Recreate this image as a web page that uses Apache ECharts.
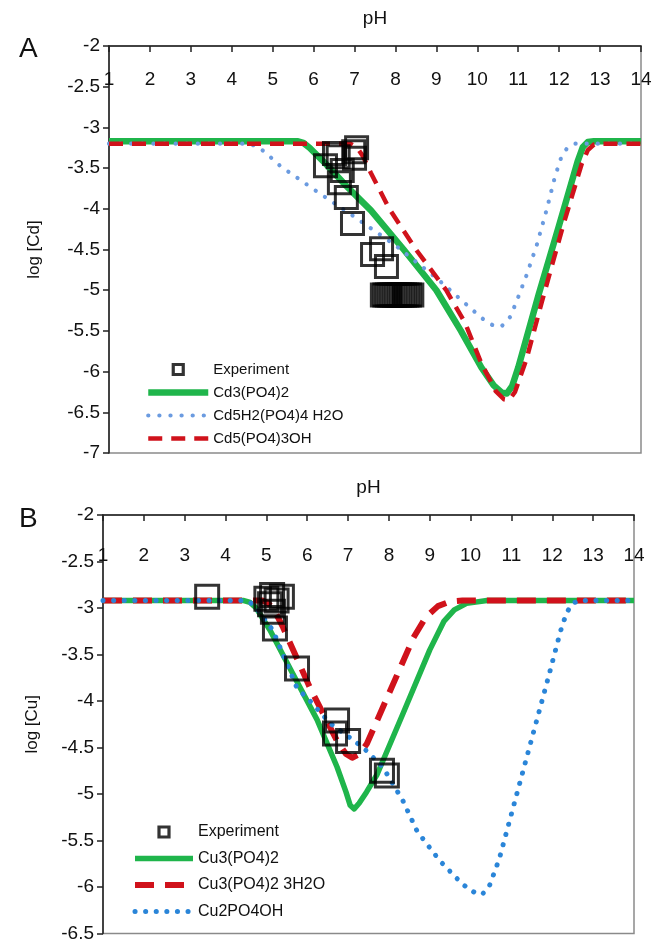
<!DOCTYPE html>
<html><head><meta charset="utf-8">
<script src="https://cdn.jsdelivr.net/npm/echarts@6/dist/echarts.min.js"></script>
<style>html,body{margin:0;padding:0;background:#fff}#c{width:662px;height:943px}</style>
</head><body><div id="c"></div>
<script>
// ---------- Panel A : Cd ----------
const cdExperiment = [[6.29,-3.47],[6.51,-3.32],[6.6,-3.36],[6.7,-3.53],[6.63,-3.68],[6.8,-3.86],[6.95,-4.18],[6.98,-3.30],[7.05,-3.25],[7.0,-3.38],[7.44,-4.56],[7.66,-4.49],[7.78,-4.71],[7.68,-5.06],[7.74,-5.06],[7.80,-5.06],[7.86,-5.06],[7.92,-5.06],[7.98,-5.06],[8.04,-5.06],[8.10,-5.06],[8.16,-5.06],[8.22,-5.06],[8.28,-5.06],[8.34,-5.06],[8.4,-5.06]];
const cd3PO42 = [[1,-3.17],[5.6,-3.17],[5.75,-3.19],[5.9,-3.25],[6.3,-3.45],[6.8,-3.72],[7.4,-4.02],[8.2,-4.5],[9.0,-5.0],[9.6,-5.5],[10.1,-5.95],[10.4,-6.17],[10.6,-6.26],[10.72,-6.27],[10.85,-6.18],[11.0,-5.95],[11.5,-5.05],[12.0,-4.2],[12.45,-3.42],[12.58,-3.24],[12.7,-3.18],[12.85,-3.17],[14,-3.17]];
const cd5H2PO44H2O = [[1,-3.2],[4.4,-3.2],[4.6,-3.23],[4.8,-3.3],[5.2,-3.48],[6.0,-3.76],[7.0,-4.1],[8.0,-4.45],[9.0,-4.85],[9.9,-5.25],[10.2,-5.38],[10.45,-5.45],[10.6,-5.44],[10.8,-5.33],[10.95,-5.15],[11.2,-4.82],[11.45,-4.45],[11.7,-4.0],[11.9,-3.6],[12.05,-3.37],[12.2,-3.25],[12.4,-3.2],[14,-3.2]];
const cd5PO43OH = [[1,-3.2],[6.9,-3.2],[7.05,-3.24],[7.2,-3.35],[7.4,-3.56],[7.85,-4.0],[8.5,-4.5],[9.24,-5.0],[9.7,-5.4],[10.1,-5.9],[10.45,-6.24],[10.65,-6.34],[10.78,-6.35],[10.92,-6.25],[11.2,-5.85],[11.6,-5.1],[12.1,-4.2],[12.55,-3.45],[12.7,-3.28],[12.85,-3.21],[13.0,-3.2],[14,-3.2]];
// ---------- Panel B : Cu ----------
const cuExperiment = [[3.55,-2.88],[5.0,-2.9],[5.14,-2.86],[5.38,-2.88],[5.09,-2.96],[5.25,-2.92],[5.16,-3.04],[5.21,-3.22],[5.75,-3.65],[6.73,-4.21],[6.68,-4.35],[7.0,-4.43],[7.83,-4.75],[7.95,-4.8]];
const cu3PO42 = [[1,-2.92],[4.45,-2.92],[4.6,-2.94],[4.75,-3.0],[5.09,-3.24],[5.65,-3.71],[6.24,-4.2],[6.73,-4.71],[6.95,-4.98],[7.05,-5.12],[7.15,-5.16],[7.27,-5.1],[7.45,-4.98],[7.71,-4.79],[8.34,-4.14],[9.0,-3.45],[9.35,-3.14],[9.6,-3.02],[9.9,-2.95],[10.4,-2.92],[14,-2.92]];
const cu3PO423H2O = [[1,-2.92],[4.9,-2.92],[5.05,-2.95],[5.2,-3.03],[5.4,-3.2],[6.07,-3.86],[6.73,-4.43],[6.95,-4.57],[7.1,-4.61],[7.28,-4.57],[7.46,-4.46],[7.85,-4.07],[8.27,-3.65],[8.6,-3.32],[8.9,-3.1],[9.2,-2.98],[9.5,-2.93],[9.8,-2.92],[14,-2.92]];
const cu2PO4OH = [[1,-2.92],[4.45,-2.92],[4.6,-2.94],[4.75,-3.0],[5.16,-3.24],[5.75,-3.86],[6.07,-4.0],[6.56,-4.24],[7.37,-4.5],[7.85,-4.71],[8.34,-5.07],[8.69,-5.4],[9.25,-5.72],[9.8,-5.97],[10.1,-6.06],[10.28,-6.08],[10.45,-6.0],[10.7,-5.7],[11.1,-5.05],[11.5,-4.4],[11.9,-3.75],[12.2,-3.25],[12.35,-3.05],[12.5,-2.95],[12.65,-2.92],[14,-2.92]];
// ---------- axes ----------
const pHMin = 1, pHMax = 14, pHStep = 1;
const logMaxA = -2, logMinA = -7, logMaxB = -2, logMinB = -6.5, logStep = 0.5;
const namesA = ['Experiment','Cd3(PO4)2','Cd5H2(PO4)4 H2O','Cd5(PO4)3OH'];
const namesB = ['Experiment','Cu3(PO4)2','Cu3(PO4)2 3H2O','Cu2PO4OH'];

const FONT = 'Liberation Sans, Arial, sans-serif';
const GREEN = '#1fb54b', RED = '#d0121b', BLUE_A = '#6b9be0', BLUE_B = '#2a85d8';

function xAx(g, margin){
  return {type:'value', gridIndex:g, position:'top', min:pHMin, max:pHMax, interval:pHStep,
    name:'pH', nameLocation:'middle', nameGap:18,
    nameTextStyle:{fontSize:19, color:'#111', fontFamily:FONT},
    axisLine:{show:true, onZero:false, lineStyle:{color:'#222', width:1.5}},
    axisTick:{show:true, inside:true, length:6, lineStyle:{color:'#222', width:1.5}},
    axisLabel:{inside:true, margin:margin, color:'#111', fontSize:19, fontFamily:FONT,
      showMinLabel:true, showMaxLabel:true},
    splitLine:{show:false}};
}
function yAx(g, min, max, name, gap){
  return {type:'value', gridIndex:g, min:min, max:max, interval:logStep,
    name:name, nameLocation:'middle', nameGap:gap, nameRotate:90,
    nameTextStyle:{fontSize:17, color:'#111', fontFamily:FONT},
    axisLine:{show:true, onZero:false, lineStyle:{color:'#222', width:1.5}},
    axisTick:{show:true, length:6, lineStyle:{color:'#222', width:1.5}},
    axisLabel:{margin:9, color:'#111', fontSize:19, fontFamily:FONT},
    splitLine:{show:false}};
}
function lineS(name, data, xi, color, width, type){
  return {name, type:'line', xAxisIndex:xi, yAxisIndex:xi, data, symbol:'none',
    smooth:false, z:2,
    lineStyle:{color, width, type, cap: Array.isArray(type) && type[0] < 1 ? 'round' : 'butt', join:'round'},
    itemStyle:{color}};
}
function expS(data, xi, size){
  return {name:'Experiment', type:'scatter', xAxisIndex:xi, yAxisIndex:xi, data,
    symbol:'rect', symbolSize:size, z:3,
    itemStyle:{color:'rgba(255,255,255,0)', borderColor:'#000', borderWidth:3}};
}
const HIDE = {color:'rgba(0,0,0,0)', borderColor:'rgba(0,0,0,0)', borderWidth:0, opacity:0};
function legendData(names){
  return names.map((n,i) => i === 0
    ? {name:n, icon:'path://M0,0H10V10H0Z', itemStyle:{color:'rgba(255,255,255,0)', borderColor:'#000', borderWidth:3.2}}
    : {name:n, itemStyle:HIDE});
}

const chart = echarts.init(document.getElementById('c'), null, {renderer:'canvas'});
chart.setOption({
  animation:false,
  backgroundColor:'#fff',
  title:[
    {text:'A', left:14, top:30, textStyle:{fontSize:28, fontWeight:'normal', color:'#111', fontFamily:FONT}},
    {text:'B', left:14, top:500, textStyle:{fontSize:28, fontWeight:'normal', color:'#111', fontFamily:FONT}}
  ],
  grid:[
    {left:109, right:21, top:46, height:407, show:true, borderColor:'#8a8a8a', borderWidth:1.5, backgroundColor:'transparent'},
    {left:103, right:28, top:515, height:419, show:true, borderColor:'#8a8a8a', borderWidth:1.5, backgroundColor:'transparent'}
  ],
  xAxis:[xAx(0, 24), xAx(1, 31)],
  yAxis:[yAx(0, logMinA, logMaxA, 'log [Cd]', 66), yAx(1, logMinB, logMaxB, 'log [Cu]', 62)],
  legend:[
    {orient:'vertical', left:140, top:357, itemWidth:60, itemHeight:10, itemGap:8, selectedMode:false,
     data:legendData(namesA), textStyle:{fontSize:15, color:'#111', fontFamily:FONT},
     lineStyle:{width:'inherit'}},
    {orient:'vertical', left:127, top:819, itemWidth:58, itemHeight:10, itemGap:10.5, selectedMode:false,
     data:legendData(namesB), textStyle:{fontSize:16, color:'#111', fontFamily:FONT},
     lineStyle:{width:'inherit'}}
  ],
  series:[
    lineS('Cd3(PO4)2', cd3PO42, 0, GREEN, 6.5, 'solid'),
    lineS('Cd5H2(PO4)4 H2O', cd5H2PO44H2O, 0, BLUE_A, 4.2, [0.1, 11]),
    lineS('Cd5(PO4)3OH', cd5PO43OH, 0, RED, 4.5, [14, 9]),
    expS(cdExperiment, 0, 22),
    lineS('Cu3(PO4)2', cu3PO42, 1, GREEN, 5.5, 'solid'),
    lineS('Cu3(PO4)2 3H2O', cu3PO423H2O, 1, RED, 6, [19, 11]),
    lineS('Cu2PO4OH', cu2PO4OH, 1, BLUE_B, 5, [0.1, 10.5]),
    expS(cuExperiment, 1, 23)
  ]
});
</script></body></html>
